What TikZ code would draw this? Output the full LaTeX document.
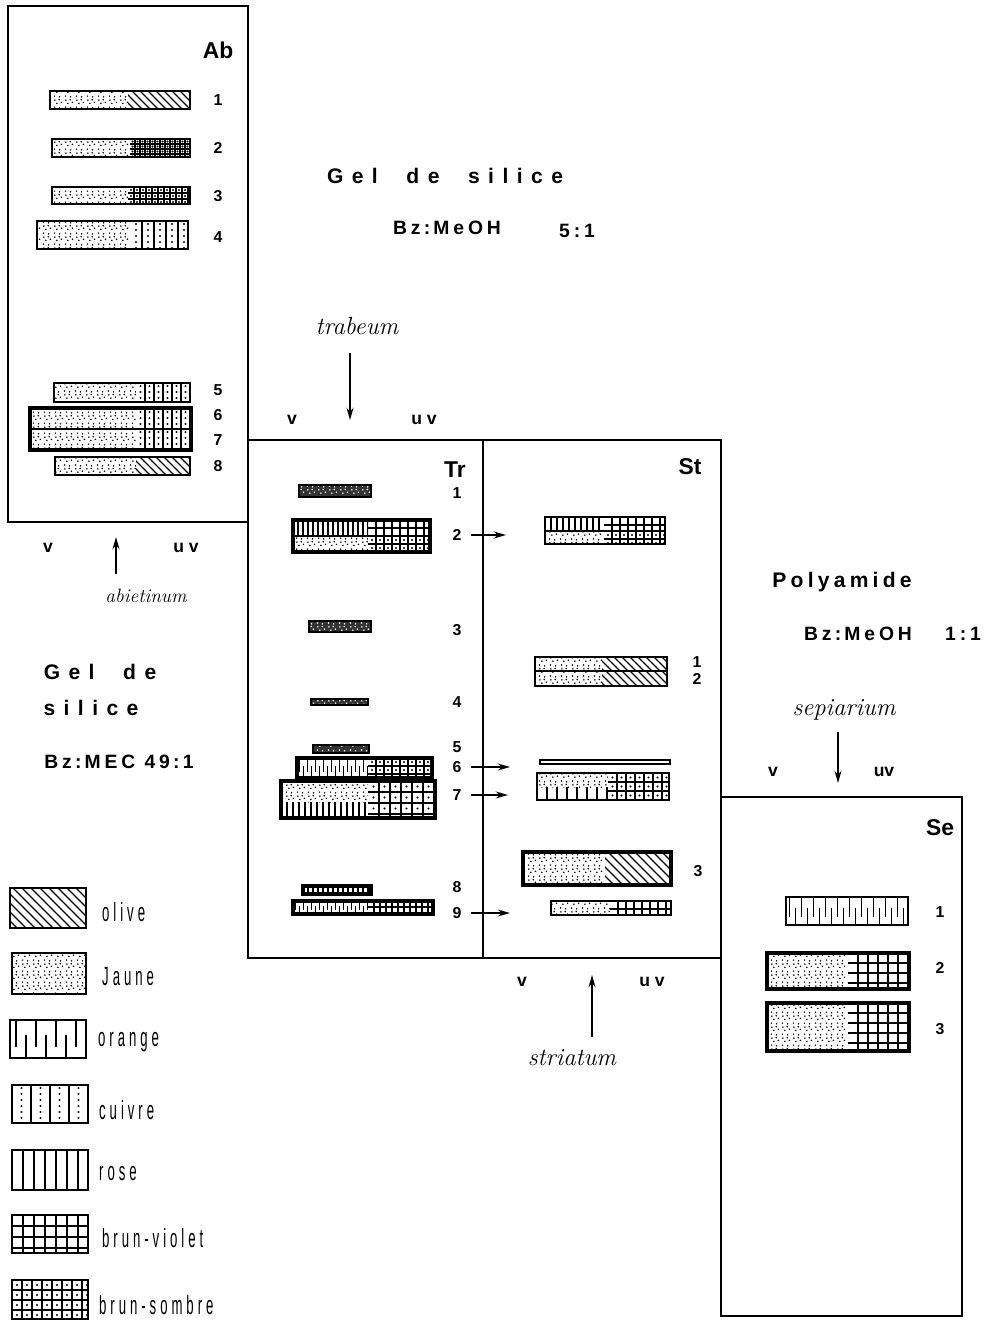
\documentclass[tikz,border=0pt]{standalone}
\usepackage{fontspec}
\newfontfamily\sansfam{Liberation Sans}
\newfontfamily\legendfam[FakeStretch=0.5,LetterSpace=15]{Liberation Sans}
\usetikzlibrary{patterns, arrows.meta}

% random-looking dots for the yellow zones
\pgfdeclarepatternformonly{jaune}{\pgfqpoint{0pt}{0pt}}{\pgfqpoint{6pt}{6pt}}{\pgfqpoint{6pt}{6pt}}{%
  \pgfpathcircle{\pgfqpoint{0.9pt}{1.1pt}}{0.5pt}
  \pgfpathcircle{\pgfqpoint{3.9pt}{0.7pt}}{0.5pt}
  \pgfpathcircle{\pgfqpoint{2.3pt}{3.3pt}}{0.5pt}
  \pgfpathcircle{\pgfqpoint{5pt}{3.9pt}}{0.5pt}
  \pgfpathcircle{\pgfqpoint{1.1pt}{5.2pt}}{0.5pt}
  \pgfpathcircle{\pgfqpoint{3.7pt}{5.4pt}}{0.5pt}
  \pgfusepath{fill}}

\tikzset{
  panel/.style={line width=1.1pt},
  bandline/.style={line width=0.8pt},
  thickband/.style={line width=2pt},
  hatch/.style={line width=0.7pt},
  arr/.style={-{Stealth[length=7pt,width=4pt]}, line width=0.7pt},
  title/.style={font=\sansfam\bfseries\fontsize{12}{14}\selectfont\addfontfeature{LetterSpace=40}},
  solvent/.style={font=\sansfam\bfseries\fontsize{11}{13}\selectfont\addfontfeature{LetterSpace=20}},
  platename/.style={font=\sansfam\bfseries\fontsize{13}{15}\selectfont},
  num/.style={font=\sansfam\bfseries\fontsize{9}{10}\selectfont},
  uvlbl/.style={font=\sansfam\bfseries\fontsize{10}{12}\selectfont},
  species/.style={font=\itshape\fontsize{14}{16}\selectfont\addfontfeature{LetterSpace=20}},
  legendlbl/.style={anchor=west, font=\legendfam\fontsize{15}{17}\selectfont},
}

% zone fillings: [spacing]{x1}{y1}{x2}{y2}
\newcommand{\fillolive}[5][8]{%
  \begin{scope}
    \clip (#2,#3) rectangle (#4,#5);
    \foreach \k in {0,...,40}
      \draw[hatch] ({#2-60+\k*#1},#3) -- ++(60,60);
  \end{scope}}
\newcommand{\filljaune}[4]{\fill[pattern=jaune] (#1,#2) rectangle (#3,#4);}
\newcommand{\filldark}[4]{%
  \fill[black!80] (#1,#2) rectangle (#3,#4);
  \fill[pattern=jaune, pattern color=white] (#1,#2) rectangle (#3,#4);}
\newcommand{\fillorange}[5][12]{%
  \begin{scope}
    \clip (#2,#3) rectangle (#4,#5);
    \pgfmathtruncatemacro{\nk}{(#4-#2)/#1}
    \foreach \k in {0,...,\nk}{
      \draw[hatch] ({#2+(\k+0.3)*#1},#3) -- ++(0,{0.7*(#5-#3)});
      \draw[hatch] ({#2+(\k+0.8)*#1},#5) -- ++(0,{-0.6*(#5-#3)});}
  \end{scope}}
\newcommand{\fillrose}[5][8]{%
  \begin{scope}
    \clip (#2,#3) rectangle (#4,#5);
    \pgfmathtruncatemacro{\nk}{(#4-#2)/#1}
    \foreach \k in {1,...,\nk}
      \draw[hatch] ({#2+\k*#1},#3) -- ({#2+\k*#1},#5);
  \end{scope}}
\newcommand{\fillcuivre}[5][10]{%
  \begin{scope}
    \clip (#2,#3) rectangle (#4,#5);
    \pgfmathtruncatemacro{\nk}{(#4-#2)/#1}
    \pgfmathtruncatemacro{\nj}{(#5-#3)/6}
    \foreach \k in {0,...,\nk}{
      \draw[hatch] ({#2+(\k+1)*#1},#3) -- ({#2+(\k+1)*#1},#5);
      \foreach \j in {0,...,\nj}
        \fill ({#2+(\k+0.5)*#1},{#3+3+\j*6}) circle (0.6pt);}
  \end{scope}}
\newcommand{\fillviolet}[5][8]{%
  \begin{scope}
    \clip (#2,#3) rectangle (#4,#5);
    \pgfmathtruncatemacro{\nk}{(#4-#2)/#1}
    \pgfmathtruncatemacro{\nj}{(#5-#3)/#1}
    \foreach \k in {1,...,\nk}
      \draw[hatch] ({#2+\k*#1},#3) -- ({#2+\k*#1},#5);
    \foreach \j in {1,...,\nj}
      \draw[hatch] (#2,{#3+\j*#1}) -- (#4,{#3+\j*#1});
  \end{scope}}
\newcommand{\fillsombre}[5][8]{%
  \fillviolet[#1]{#2}{#3}{#4}{#5}
  \begin{scope}
    \clip (#2,#3) rectangle (#4,#5);
    \pgfmathtruncatemacro{\nk}{(#4-#2)/#1}
    \pgfmathtruncatemacro{\nj}{(#5-#3)/#1}
    \foreach \k in {0,...,\nk}
      \foreach \j in {0,...,\nj}
        \fill ({#2+(\k+0.5)*#1},{#3+(\j+0.5)*#1}) circle (0.6pt);
  \end{scope}}

% two-part band: [style]{x1}{y1}{xsplit}{x2}{y2}{left fill}{right fill}
\newcommand{\tlcband}[8][bandline]{%
  #7{#2}{#3}{#4}{#6}%
  #8{#4}{#3}{#5}{#6}%
  \draw[#1] (#2,#3) rectangle (#5,#6);}
% one-part band: [style]{x1}{y1}{x2}{y2}{fill}
\newcommand{\tlcstrip}[6][bandline]{%
  #6{#2}{#3}{#4}{#5}%
  \draw[#1] (#2,#3) rectangle (#4,#5);}

\begin{document}
\begin{tikzpicture}[x=0.02cm, y=-0.02cm]
  \useasboundingbox (0,0) rectangle (984,1321);

  % ---- plate Ab
  \draw[panel] (8,6) rectangle (248,522);
  \node[platename] (ab) at (218,50) {Ab};
  \foreach \n/\yy in {1/100,2/148,3/196,4/237,5/390,6/415,7/440,8/466}
    \node[num] (ab\n) at (218,\yy) {\n};
  \tlcband{50}{91}{128}{190}{109}{\filljaune}{\fillolive}
  \tlcband{52}{139}{130}{190}{157}{\filljaune}{\fillsombre[5]}
  \tlcband{52}{187}{128}{190}{204}{\filljaune}{\fillsombre[6]}
  \tlcband{37}{221}{130}{188}{249}{\filljaune}{\fillcuivre[12]}
  \tlcband{54}{383}{136}{190}{402}{\filljaune}{\fillcuivre[9]}
  \tlcband{31}{409}{136}{190}{429}{\filljaune}{\fillcuivre[9]}
  \tlcband{31}{429}{136}{190}{449}{\filljaune}{\fillcuivre[9]}
  \draw[thickband] (30,408) rectangle (191,450);
  \tlcband{55}{457}{136}{190}{475}{\filljaune}{\fillolive}
  \node[uvlbl] (abv) at (48,548) {v};
  \node[uvlbl] (abuv) at (186,548) {u v};
  \node[species, font=\itshape\fontsize{11}{13}\selectfont\addfontfeature{LetterSpace=8}] (abiet) at (146,596) {abietinum};
  \coordinate (abtip) at (116,537);
  \draw[arr, shorten <=5pt] (abiet.north -| abtip) -- (abtip);

  % ---- solvent texts
  \node[title] (gel1) at (445,176) {Gel\ \ de\ \ silice};
  \node[solvent] (solv1) at (447,228) {Bz\,:\,MeOH};
  \node[solvent] (ratio1) at (577,231) {5:1};
  \node[title] (gel2a) at (100,672) {Gel\ \ de};
  \node[title] (gel2b) at (91,708) {silice};
  \node[solvent] (solv2) at (119,762) {Bz\,:\,MEC 49\,:\,1};
  \node[solvent, font=\sansfam\bfseries\fontsize{12}{14}\selectfont\addfontfeature{LetterSpace=20}] (poly) at (842,582) {Polyamide};
  \node[solvent] (solv3) at (858,634) {Bz\,:\,MeOH};
  \node[solvent] (ratio3) at (963,634) {1:1};

  % ---- plates Tr and St
  \draw[panel] (248,440) rectangle (483,958);
  \draw[panel] (483,440) rectangle (721,958);
  \node[platename] (tr) at (455,470) {Tr};
  \node[platename] (st) at (690,467) {St};
  \node[species] (trab) at (357,326) {trabeum};
  \coordinate (trtip) at (350,420);
  \draw[arr, shorten <=7pt] (trab.south -| trtip) -- (trtip);
  \node[uvlbl] (trv) at (292,420) {v};
  \node[uvlbl] (truv) at (424,420) {u v};
  \foreach \n/\yy in {1/493,2/535,3/630,4/702,5/747,6/767,7/795,8/887,9/913}
    \node[num] (tr\n) at (457,\yy) {\n};

  \tlcstrip{299}{485}{371}{497}{\filldark}
  \tlcband{293}{520}{368}{430}{536}{\fillrose[5]}{\fillviolet[8]}
  \tlcband{293}{536}{368}{430}{552}{\filljaune}{\fillsombre[8]}
  \draw[thickband] (293,520) rectangle (430,552);
  \tlcstrip{309}{621}{371}{632}{\filldark}
  \tlcstrip{311}{699}{368}{705}{\filldark}
  \tlcstrip{313}{745}{369}{753}{\filldark}
  \tlcband[thickband]{297}{758}{368}{432}{778}{\fillorange[8]}{\fillsombre[8]}
  \filljaune{281}{781}{368}{802}
  \fillrose[6]{281}{802}{368}{818}
  \fillsombre[11]{368}{781}{435}{818}
  \draw[thickband] (281,781) rectangle (435,818);
  \tlcstrip[thickband]{303}{886}{371}{894}{\fillrose[5]}
  \tlcband[thickband]{293}{901}{368}{433}{914}{\fillorange[8]}{\fillviolet[6]}

  \tlcband{545}{517}{604}{665}{531}{\fillrose[6]}{\fillviolet[8]}
  \tlcband{545}{531}{604}{665}{544}{\filljaune}{\fillsombre[8]}
  \tlcband{535}{657}{602}{667}{671}{\filljaune}{\fillolive}
  \tlcband{535}{671}{602}{667}{686}{\filljaune}{\fillolive}
  \draw[bandline] (540,760) rectangle (670,764);
  \filljaune{537}{773}{608}{787}
  \fillrose[10]{537}{787}{608}{800}
  \fillsombre[9]{608}{773}{669}{800}
  \draw[bandline] (537,773) rectangle (669,800);
  \tlcband[thickband]{523}{852}{605}{671}{885}{\filljaune}{\fillolive[9]}
  \tlcband{551}{901}{610}{671}{915}{\filljaune}{\fillviolet[8]}
  \node[num] (st1) at (697,662) {1};
  \node[num] (st2) at (697,679) {2};
  \node[num] (st3) at (698,871) {3};

  % migration of Tr spots into St
  \coordinate (in2) at (506,535);
  \coordinate (in6) at (510,767);
  \coordinate (in7) at (508,795);
  \coordinate (in9) at (510,913);
  \foreach \n in {2,6,7,9}
    \draw[arr, shorten <=2pt] (tr\n.east) -- (in\n);

  \node[uvlbl] (stv) at (522,982) {v};
  \node[uvlbl] (stuv) at (652,982) {u v};
  \node[species] (stri) at (572,1058) {striatum};
  \coordinate (sttip) at (592,975);
  \draw[arr, shorten <=4pt] (stri.north -| sttip) -- (sttip);

  % ---- plate Se
  \draw[panel] (721,797) rectangle (962,1316);
  \node[platename] (se) at (940,828) {Se};
  \node[species] (sepi) at (844,710) {sepiarium};
  \coordinate (setip) at (838,783);
  \draw[arr, shorten <=3pt] (sepi.south -| setip) -- (setip);
  \node[uvlbl] (sev) at (773,772) {v};
  \node[uvlbl] (seuv) at (884,772) {uv};
  \tlcstrip{786}{897}{908}{925}{\fillorange[12]}
  \tlcband[thickband]{767}{953}{848}{909}{989}{\filljaune}{\fillviolet[10]}
  \tlcband[thickband]{767}{1003}{848}{909}{1051}{\filljaune}{\fillviolet[10]}
  \node[num] (se1) at (940,912) {1};
  \node[num] (se2) at (940,968) {2};
  \node[num] (se3) at (940,1029) {3};

  % ---- legend
  \tlcstrip{10}{888}{86}{928}{\fillolive[9]}
  \node[legendlbl] (lgolive) at (96,912) {olive};
  \tlcstrip{12}{953}{86}{994}{\filljaune}
  \node[legendlbl] (lgjaune) at (96,977) {Jaune};
  \tlcstrip{10}{1020}{86}{1058}{\fillorange[20]}
  \node[legendlbl] (lgorange) at (92,1042) {orange};
  \tlcstrip{12}{1085}{88}{1123}{\fillcuivre[19]}
  \node[legendlbl] (lgcuivre) at (93,1110) {cuivre};
  \tlcstrip{12}{1150}{88}{1190}{\fillrose[11]}
  \node[legendlbl] (lgrose) at (93,1174) {rose};
  \tlcstrip{12}{1215}{88}{1253}{\fillviolet[11]}
  \node[legendlbl] (lgviolet) at (96,1238) {brun-violet};
  \tlcstrip{12}{1280}{88}{1319}{\fillsombre[10]}
  \node[legendlbl] (lgsombre) at (93,1305) {brun-sombre};
\end{tikzpicture}
\end{document}
